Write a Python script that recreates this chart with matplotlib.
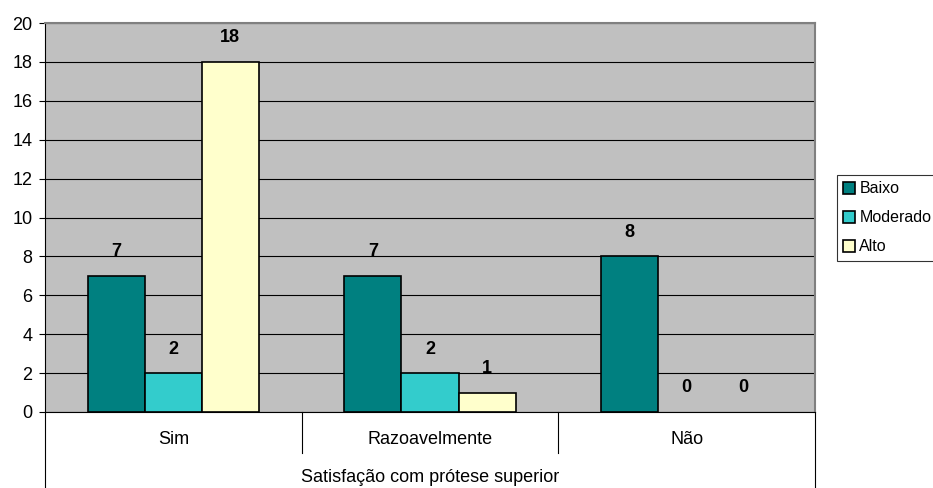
import matplotlib
matplotlib.use("Agg")
import matplotlib.pyplot as plt
import numpy as np

plt.rcParams['font.family'] = ['Liberation Sans', 'DejaVu Sans']

categories = ["Sim", "Razoavelmente", "Não"]
series_names = ["Baixo", "Moderado", "Alto"]
baixo = [7, 7, 8]
moderado = [2, 2, 0]
alto = [18, 1, 0]
axis_title = "Satisfação com prótese superior"
yticks = [0, 2, 4, 6, 8, 10, 12, 14, 16, 18, 20]
colors = ["#008080", "#33CCCC", "#FFFFCC"]

W, H = 933, 488
fig = plt.figure(figsize=(W / 100, H / 100), dpi=100)
L, R, T, B = 45, 815, 23, 412
ax = fig.add_axes([L / W, (H - B) / H, (R - L) / W, (B - T) / H])
ax.set_facecolor("#C0C0C0")

fs = 13
x = np.arange(len(categories))
bw = 1 / 4.5
bars = []
for i, (name, vals) in enumerate(zip(series_names, [baixo, moderado, alto])):
    lws = [1.2 if v > 0 else 0 for v in vals]
    b = ax.bar(x + (i - 1) * bw, vals, width=bw, color=colors[i], edgecolor="black",
               linewidth=lws, label=name, zorder=3)
    bars.append(b)
    for xi, v in zip(x + (i - 1) * bw, vals):
        ax.annotate(str(v), (xi, v), xytext=(0, 24), textcoords="offset pixels",
                    ha="center", va="center", fontsize=fs, fontweight="bold", zorder=4)

ax.set_xlim(-0.5, 2.5)
ax.set_ylim(0, 20)
ax.set_yticks(yticks)
ax.set_yticklabels([str(t) for t in yticks], fontsize=fs)
ax.yaxis.grid(True, color="black", linewidth=0.8)
ax.set_axisbelow(True)
ax.tick_params(axis="y", length=4, width=0.8, pad=5, direction="out")
ax.set_xticks([])

for s in ["top", "right"]:
    ax.spines[s].set_color("#808080")
    ax.spines[s].set_linewidth(1.5)
ax.spines["left"].set_color("black")
ax.spines["left"].set_linewidth(0.8)
ax.spines["bottom"].set_color("black")
ax.spines["bottom"].set_linewidth(0.8)
ax.spines["bottom"].set_zorder(5)

hpx = B - T
sep_y = -(453 - B) / hpx
out_y = -(H - B + 2) / hpx
tr = ax.transAxes
for xb in [1 / 3, 2 / 3]:
    ax.plot([xb, xb], [0, sep_y], color="black", lw=0.8, transform=tr, clip_on=False)
for xb in [0, 1]:
    ax.plot([xb, xb], [0, out_y], color="black", lw=0.8, transform=tr, clip_on=False)
for i, c in enumerate(categories):
    ax.text((i + 0.5) / 3, -(440 - B) / hpx, c, ha="center", va="center",
            fontsize=fs, transform=tr)
ax.text(0.5, -(477 - B) / hpx, axis_title, ha="center", va="center",
        fontsize=fs, transform=tr)

leg = fig.legend(handles=bars, labels=series_names, loc="upper left",
                 bbox_to_anchor=(837 / W, 1 - 175 / H), fontsize=11.5,
                 frameon=True, fancybox=False, handlelength=0.75, handleheight=0.75,
                 handletextpad=0.25, borderpad=0.4, labelspacing=0.88,
                 borderaxespad=0)
leg.get_frame().set_edgecolor("black")
leg.get_frame().set_linewidth(0.8)

fig.savefig("out.png", dpi=100)
